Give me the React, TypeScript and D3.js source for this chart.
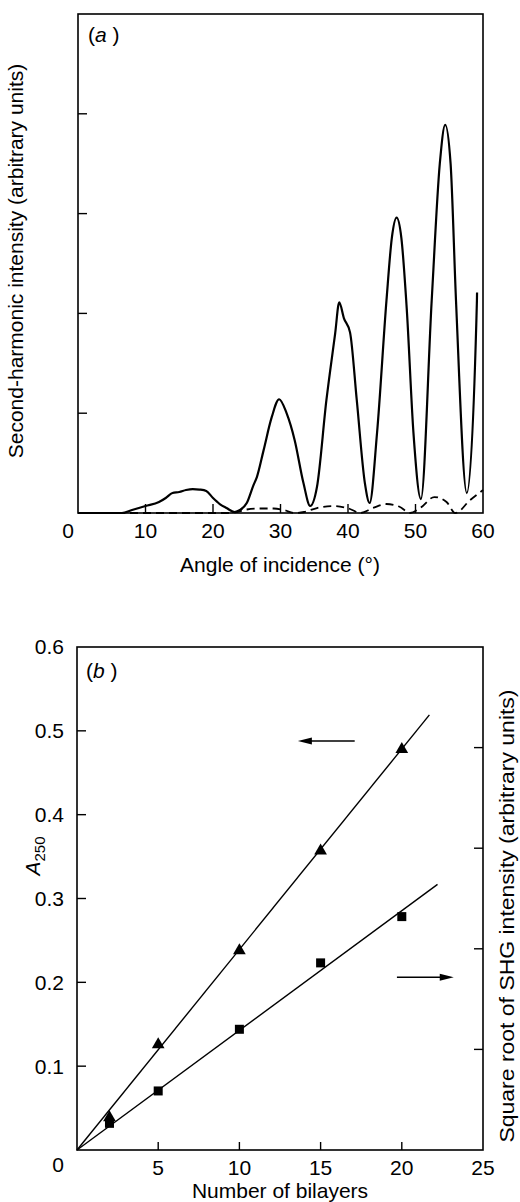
import React from "react";
import * as d3 from "d3";

// panel (a): second-harmonic intensity vs angle of incidence
const angleTicks = [0, 10, 20, 30, 40, 50, 60];
const intensityTicks = [1, 2, 3, 4];
const solidCurve: [number, number][] = [
  [0, 0], [6.5, 0], [8, 0.03], [10, 0.07], [12, 0.11], [13, 0.15], [14, 0.2],
  [15, 0.21], [16, 0.23], [17, 0.24], [18, 0.235], [19, 0.22], [20, 0.15],
  [21, 0.09], [22, 0.05], [23.2, 0.01], [24, 0.03], [25, 0.1], [26, 0.28],
  [26.5, 0.36], [27.5, 0.63], [28.7, 0.96], [29.8, 1.14], [30.9, 1.0],
  [32.1, 0.73], [33.4, 0.3], [34.4, 0.07], [35.4, 0.26], [36.8, 1.13],
  [38.1, 1.8], [38.7, 2.11], [39.4, 1.95], [40.3, 1.81], [41.3, 1.13],
  [42.5, 0.3], [43.2, 0.1], [44.3, 0.8], [45.7, 2.13], [46.5, 2.76],
  [47.2, 2.96], [47.9, 2.76], [48.7, 2.05], [49.7, 0.8], [50.8, 0.14],
  [52.4, 2.13], [53.6, 3.5], [54.4, 3.89], [55.2, 3.5], [56.0, 2.13],
  [57.6, 0.2], [59.1, 2.13], [59.12, 2.21],
];
const dashedCurve: [number, number][] = [
  [0, 0], [22, 0], [23.5, 0.01], [25, 0.035], [27, 0.045], [29, 0.045],
  [30.5, 0.03], [32, 0], [33.5, 0.01], [35.4, 0.05], [37.8, 0.07],
  [40.3, 0.04], [41.8, 0], [43.7, 0.05], [45.7, 0.09], [47.7, 0.06],
  [49.2, 0], [50.7, 0.05], [52.8, 0.16], [54.6, 0.11], [55.9, 0],
  [58.1, 0.13], [60, 0.23],
];

// panel (b): A250 and sqrt(SHG) vs number of bilayers
const bilayerTicks = [0, 5, 10, 15, 20, 25];
const absTicks = [0.1, 0.2, 0.3, 0.4, 0.5, 0.6];
const shgTicks = [1, 2, 3, 4];
const absPoints: [number, number][] = [
  [2, 0.04], [5, 0.127], [10, 0.239], [15, 0.358], [20, 0.479],
];
const shgPoints: [number, number][] = [
  [2, 0.265], [5, 0.587], [10, 1.2], [15, 1.86], [20, 2.32],
];
const absFit: [number, number][] = [[0, 0], [21.7, 0.519]];
const shgFit: [number, number][] = [[0, 0], [22.2, 2.64]];
// arrows, in left-axis units: [x1, x2, y]
const leftArrow = [13.6, 17.1, 0.488];
const rightArrow = [19.7, 23.2, 0.206];

const FONT = "'Liberation Sans', Arial, Helvetica, sans-serif";

export default function App() {
  const W = 520;
  const H = 1202;

  // panel (a) scales
  const xa = d3.scaleLinear().domain([0, 60]).range([78, 483]);
  const ya = d3.scaleLinear().domain([0, 5]).range([513, 14]);
  const lineA = d3
    .line<[number, number]>()
    .x((d) => xa(d[0]))
    .y((d) => ya(d[1]))
    .curve(d3.curveMonotoneX);

  // panel (b) scales
  const xb = d3.scaleLinear().domain([0, 25]).range([77, 483]);
  const yb = d3.scaleLinear().domain([0, 0.6]).range([1150, 647]);
  const yr = d3.scaleLinear().domain([0, 5]).range([1150, 647]);
  const fitL = d3.line<[number, number]>().x((d) => xb(d[0])).y((d) => yb(d[1]));
  const fitR = d3.line<[number, number]>().x((d) => xb(d[0])).y((d) => yr(d[1]));
  const tri = d3.symbol().type(d3.symbolTriangle).size(70)() as string;

  const arrow = (x1: number, x2: number, y: number, left: boolean, key: string) => {
    const a = xb(x1), b = xb(x2), yy = yb(y);
    const tip = left ? a : b;
    const dir = left ? 1 : -1;
    return (
      <g key={key}>
        <line x1={left ? a + 10 : a} x2={left ? b : b - 10} y1={yy} y2={yy} stroke="#000" strokeWidth={1.5} />
        <path d={`M${tip},${yy} L${tip + dir * 14},${yy - 3.5} L${tip + dir * 14},${yy + 3.5} Z`} fill="#000" />
      </g>
    );
  };

  return (
    <svg width={W} height={H} style={{ position: "absolute", left: 0, top: 0, background: "#fff" }} fontFamily={FONT}>
      {/* ---------- panel (a) ---------- */}
      <rect x={xa(0)} y={ya(5)} width={xa(60) - xa(0)} height={ya(0) - ya(5)} fill="none" stroke="#000" strokeWidth={1.6} />
      {intensityTicks.map((t) => (
        <line key={"ia" + t} x1={xa(0)} x2={xa(0) + 9} y1={ya(t)} y2={ya(t)} stroke="#000" strokeWidth={1.4} />
      ))}
      {angleTicks.slice(1, -1).map((t) => (
        <line key={"ta" + t} x1={xa(t)} x2={xa(t)} y1={ya(0)} y2={ya(0) - 9} stroke="#000" strokeWidth={1.4} />
      ))}
      {angleTicks.map((t) => (
        <text key={"la" + t} x={t === 0 ? xa(0) - 10 : xa(t)} y={538} fontSize={21} textAnchor="middle">
          {t}
        </text>
      ))}
      <path d={lineA(dashedCurve) as string} fill="none" stroke="#000" strokeWidth={1.8} strokeDasharray="8,5" />
      <path d={lineA(solidCurve) as string} fill="none" stroke="#000" strokeWidth={2.2} strokeLinejoin="round" />
      <text x={88} y={42} fontSize={21}>
        (<tspan fontStyle="italic">a</tspan> )
      </text>
      <text x={280} y={572} fontSize={21} textAnchor="middle">Angle of incidence (°)</text>
      <text transform={`translate(23,261) rotate(-90)`} fontSize={21} textAnchor="middle">
        Second-harmonic intensity (arbitrary units)
      </text>

      {/* ---------- panel (b) ---------- */}
      <rect x={xb(0)} y={yb(0.6)} width={xb(25) - xb(0)} height={yb(0) - yb(0.6)} fill="none" stroke="#000" strokeWidth={1.6} />
      {absTicks.slice(0, -1).map((t) => (
        <line key={"ab" + t} x1={xb(0)} x2={xb(0) + 9} y1={yb(t)} y2={yb(t)} stroke="#000" strokeWidth={1.4} />
      ))}
      {shgTicks.map((t) => (
        <line key={"sh" + t} x1={xb(25)} x2={xb(25) - 9} y1={yr(t)} y2={yr(t)} stroke="#000" strokeWidth={1.4} />
      ))}
      {bilayerTicks.slice(1, -1).map((t) => (
        <line key={"tb" + t} x1={xb(t)} x2={xb(t)} y1={yb(0)} y2={yb(0) - 8} stroke="#000" strokeWidth={1.4} />
      ))}
      {absTicks.map((t) => (
        <text key={"lab" + t} x={64} y={yb(t)} dy="0.35em" fontSize={21} textAnchor="end">
          {t.toFixed(1)}
        </text>
      ))}
      {bilayerTicks.map((t) => (
        <text key={"lb" + t} x={t === 0 ? 58 : xb(t)} y={t === 0 ? 1172 : 1175} fontSize={21} textAnchor="middle">
          {t}
        </text>
      ))}
      <path d={fitL(absFit) as string} stroke="#000" strokeWidth={1.4} fill="none" />
      <path d={fitR(shgFit) as string} stroke="#000" strokeWidth={1.4} fill="none" />
      {absPoints.map((d, i) => (
        <path key={"tp" + i} d={tri} transform={`translate(${xb(d[0])},${yb(d[1]) + 1})`} fill="#000" />
      ))}
      {shgPoints.map((d, i) => (
        <rect key={"sp" + i} x={xb(d[0]) - 4.5} y={yr(d[1]) - 4.5} width={9} height={9} fill="#000" />
      ))}
      {arrow(leftArrow[0], leftArrow[1], leftArrow[2], true, "la")}
      {arrow(rightArrow[0], rightArrow[1], rightArrow[2], false, "ra")}
      <text x={86} y={678} fontSize={21}>
        (<tspan fontStyle="italic">b</tspan> )
      </text>
      <text x={280} y={1198} fontSize={21} textAnchor="middle">Number of bilayers</text>
      <text transform={`translate(40,856) rotate(-90)`} fontSize={21} textAnchor="middle">
        <tspan fontStyle="italic">A</tspan>
        <tspan fontSize={15} dy={5}>250</tspan>
      </text>
      <text transform={`translate(514,916) rotate(-90)`} fontSize={21} textAnchor="middle" textLength={453} lengthAdjust="spacingAndGlyphs">
        Square root of SHG intensity (arbitrary units)
      </text>
    </svg>
  );
}
